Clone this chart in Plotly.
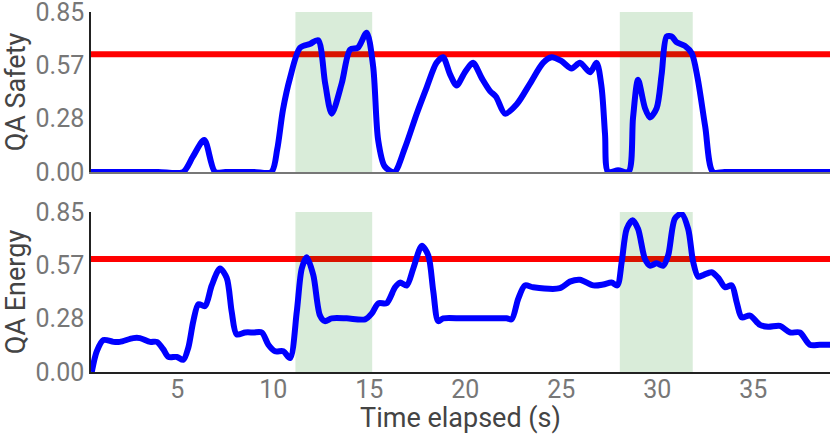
import plotly.graph_objects as go
from plotly.subplots import make_subplots

# QA Safety trace (time in s, score)
safety_t = [0.5, 2.0, 4.0, 5.3, 5.8, 6.4, 6.96, 7.5, 9.0, 9.9, 10.2, 10.5, 10.87, 11.39, 11.9, 12.33,
            12.7, 13.04, 13.56, 14.0, 14.4, 14.86, 15.2, 15.46, 15.8, 16.3, 16.86, 17.47, 17.99,
            18.5, 18.84, 19.2, 19.55, 19.98, 20.4, 20.85, 21.29, 21.6, 22.07, 22.68, 23.37, 24.05,
            24.5, 25.0, 25.54, 25.97, 26.5, 26.84, 27.1, 27.28, 27.44, 27.96, 28.5, 28.74, 29.0,
            29.36, 29.62, 29.97, 30.23, 30.49, 30.75, 31.0, 31.44, 31.8, 32.1, 32.5, 32.9, 33.5,
            36.0, 39.0]
safety_v = [0.0, 0.0, 0.0, 0.0, 0.08, 0.17, 0.0, 0.0, 0.0, 0.0, 0.12, 0.33, 0.5, 0.66, 0.68, 0.70,
            0.47, 0.31, 0.47, 0.65, 0.66, 0.74, 0.56, 0.17, 0.03, 0.0, 0.13, 0.31, 0.45,
            0.58, 0.61, 0.52, 0.46, 0.53, 0.58, 0.50, 0.43, 0.40, 0.31, 0.36, 0.47, 0.58,
            0.61, 0.59, 0.55, 0.58, 0.53, 0.58, 0.45, 0.2, 0.0, 0.01, 0.0, 0.29, 0.49,
            0.34, 0.29, 0.34, 0.52, 0.72, 0.72, 0.69, 0.67, 0.63, 0.50, 0.24, 0.0, 0.0,
            0.0, 0.0]

# QA Energy trace
energy_t = [0.54, 0.8, 1.15, 1.67, 2.0, 2.7, 3.05, 3.58, 3.93, 4.27, 4.53, 4.97, 5.31, 5.57, 5.83,
            6.1, 6.44, 6.79, 7.22, 7.57, 7.83, 8.09, 8.53, 8.96, 9.4, 9.74, 10.09, 10.52, 10.87,
            11.22, 11.48, 11.74, 12.08, 12.43, 12.69, 13.04, 13.82, 14.78, 15.12, 15.47, 15.9,
            16.34, 16.6, 16.95, 17.29, 17.73, 18.07, 18.33, 18.59, 18.85, 19.9, 22.15, 22.42,
            22.76, 23.11, 23.54, 24.93, 25.45, 25.97, 26.67, 27.19, 27.62, 27.92, 28.15, 28.41,
            28.72, 29.0, 29.36, 29.62, 29.97, 30.31, 30.57, 30.92, 31.27, 31.61, 31.87, 32.13,
            32.4, 32.83, 33.18, 33.53, 33.88, 34.14, 34.4, 34.83, 35.35, 35.78, 36.39, 36.91,
            37.43, 37.95, 38.47, 39.0]
energy_v = [0.0, 0.11, 0.17, 0.16, 0.16, 0.18, 0.18, 0.16, 0.16, 0.12, 0.08, 0.08, 0.065, 0.13, 0.27,
            0.36, 0.35, 0.46, 0.55, 0.50, 0.32, 0.20, 0.21, 0.21, 0.21, 0.145, 0.11, 0.11, 0.074,
            0.32, 0.55, 0.61, 0.515, 0.30, 0.27, 0.285, 0.285, 0.28, 0.31, 0.365, 0.365,
            0.45, 0.475, 0.46, 0.55, 0.67, 0.62, 0.43, 0.27, 0.285, 0.285, 0.285, 0.28,
            0.39, 0.46, 0.45, 0.445, 0.48, 0.49, 0.46, 0.465, 0.475, 0.46, 0.585, 0.76,
            0.806, 0.76, 0.60, 0.565, 0.577, 0.565, 0.62, 0.815, 0.84, 0.76, 0.585, 0.506,
            0.515, 0.53, 0.50, 0.45, 0.46, 0.37, 0.29, 0.30, 0.25, 0.24, 0.245, 0.21,
            0.21, 0.145, 0.145, 0.145]

safety_threshold = 0.625
energy_threshold = 0.60
highlight_windows = [(11.15, 15.15), (28.05, 31.85)]
y_ticks = [0, 0.85 / 3, 2 * 0.85 / 3, 0.85]
y_tick_text = ["0.00", "0.28", "0.57", "0.85"]
x_ticks = [5, 10, 15, 20, 25, 30, 35]

BLUE = "#0000ff"
RED = "#ff0000"
BAND = "rgba(0,128,0,0.15)"
FONT = "Roboto"

fig = make_subplots(rows=2, cols=1, shared_xaxes=True, vertical_spacing=0.111)

panels = [(safety_t, safety_v, safety_threshold, "QA Safety"),
          (energy_t, energy_v, energy_threshold, "QA Energy")]
for row, (t, v, thr, title) in enumerate(panels, start=1):
    axis = "" if row == 1 else str(row)
    # threshold line first, highlight bands over it, both under the trace
    fig.add_shape(type="line", xref=f"x{axis} domain", yref=f"y{axis}", x0=0, x1=1, y0=thr, y1=thr,
                  line={"color": RED, "width": 6}, layer="below")
    for start, end in highlight_windows:
        fig.add_shape(type="rect", xref=f"x{axis}", yref=f"y{axis} domain", x0=start, x1=end, y0=0, y1=1,
                      fillcolor=BAND, line={"width": 0}, layer="below")
    fig.add_trace(go.Scatter(x=t, y=v, mode="lines", line={"color": BLUE, "width": 6, "shape": "spline",
                                                             "smoothing": 0.8},
                             showlegend=False, hoverinfo="skip"), row=row, col=1)
    fig.update_yaxes(range=[0, 0.85], tickvals=y_ticks, ticktext=y_tick_text, showgrid=False, zeroline=False,
                     showline=True, linecolor="#222", linewidth=1.5, ticks="", automargin=False,
                     ticklabeloverflow="allow", tickfont={"size": 25, "color": "#777"},
                     title={"text": title, "font": {"size": 27, "color": "#444"}, "standoff": 6},
                     row=row, col=1)

fig.update_xaxes(range=[0.5, 39], tickvals=x_ticks, showgrid=False, zeroline=False, showline=True,
                 linewidth=1.5, ticks="", automargin=False, ticklabelstandoff=-6,
                 tickfont={"size": 25, "color": "#777"})
fig.update_xaxes(linecolor="#777", showticklabels=False, row=1, col=1)
fig.update_xaxes(linecolor="#222", title={"text": "Time elapsed (s)", "font": {"size": 27, "color": "#444"},
                                          "standoff": 0}, row=2, col=1)

fig.update_layout(width=830, height=434, margin={"l": 91, "r": 0, "t": 12, "b": 62},
                  plot_bgcolor="white", paper_bgcolor="white", font={"family": FONT})

fig.write_html("out.html", config={"displayModeBar": False},
               post_script="document.body.style.margin = '0';")
